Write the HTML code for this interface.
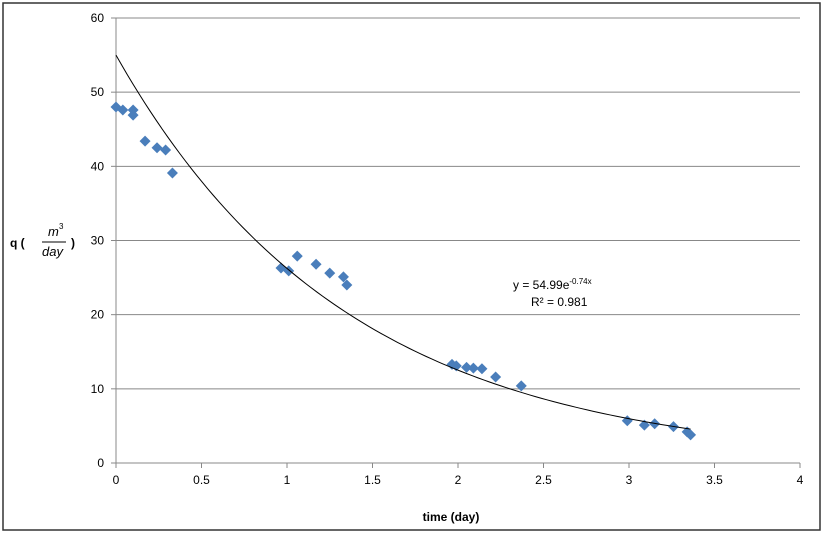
<!DOCTYPE html>
<html><head><meta charset="utf-8"><style>
body{margin:0;background:#fff;font-family:"Liberation Sans",sans-serif;}
svg text{font-family:"Liberation Sans",sans-serif;}
</style></head><body>
<svg id="c" width="824" height="534">
<rect x="3" y="3" width="817" height="527" fill="#fff" stroke="#333" stroke-width="1.5"/>
<g id="grid"></g><g id="axes"></g><g id="marks"></g>
<text x="451" y="521" font-size="12" font-weight="bold" text-anchor="middle">time (day)</text>
<g>
<text x="10" y="247" font-size="12" font-weight="bold">q (</text>
<text x="48" y="236" font-size="13" font-style="italic" font-family="Liberation Serif">m</text>
<text x="59" y="229" font-size="8">3</text>
<line x1="42" y1="242" x2="66" y2="242" stroke="#000"/>
<text x="42" y="256" font-size="13" font-style="italic" font-family="Liberation Serif">day</text>
<text x="71" y="247" font-size="12" font-weight="bold">)</text>
</g>
<text x="513" y="289" font-size="12">y = 54.99e<tspan font-size="8" dy="-5">-0.74x</tspan></text>
<text x="531" y="306" font-size="12">R² = 0.981</text>
</svg>
<script>
const xTicks=[0,0.5,1,1.5,2,2.5,3,3.5,4];
const yTicks=[0,10,20,30,40,50,60];
const timeDays=[0,0.04,0.1,0.1,0.17,0.24,0.29,0.33,0.965,1.01,1.06,1.17,1.25,1.33,1.35,1.965,1.99,2.05,2.09,2.14,2.22,2.37,2.99,3.09,3.15,3.26,3.34,3.36];
const rates=[48,47.6,47.6,46.9,43.4,42.5,42.2,39.1,26.3,25.9,27.9,26.8,25.6,25.1,24.0,13.3,13.1,12.9,12.8,12.7,11.6,10.4,5.7,5.1,5.3,4.9,4.2,3.8];
const fitA=54.99, fitB=-0.74, fitXMax=3.36;
const X0=116,X1=800,Y0=463,Y1=18;
const sx=v=>X0+(v-0)/(4-0)*(X1-X0);
const sy=v=>Y0-(v-0)/(60-0)*(Y0-Y1);
const NS="http://www.w3.org/2000/svg";
function mk(t,a,p){const e=document.createElementNS(NS,t);for(const k in a)e.setAttribute(k,a[k]);p.appendChild(e);return e;}
const g=document.getElementById('grid'),ax=document.getElementById('axes'),m=document.getElementById('marks');
yTicks.forEach(v=>{
 if(v>0){const l=mk('line',{x1:X0,x2:X1,y1:sy(v),y2:sy(v),stroke:'#888','stroke-width':1},g);
 
 }
 const t=mk('text',{x:X0-12,y:sy(v)+4,'font-size':12,'text-anchor':'end'},ax);t.textContent=v;
 
 
 mk('line',{x1:X0-5,x2:X0,y1:sy(v),y2:sy(v),stroke:'#888'},ax);
});
xTicks.forEach(v=>{
 const t=mk('text',{x:sx(v),y:Y0+21,'font-size':12,'text-anchor':'middle'},ax);t.textContent=v;
 
 
 mk('line',{x1:sx(v),x2:sx(v),y1:Y0,y2:Y0+5,stroke:'#888'},ax);
});
mk('line',{x1:X0,x2:X0,y1:Y1,y2:Y0,stroke:'#888'},ax);
mk('line',{x1:X0,x2:X1,y1:Y0,y2:Y0,stroke:'#888'},ax);
timeDays.forEach((t,i)=>{
 const cx=sx(t),cy=sy(rates[i]);
 const p=mk('polygon',{points:`${cx},${cy-5.5} ${cx+5.5},${cy} ${cx},${cy+5.5} ${cx-5.5},${cy}`,fill:'#4a7ebb'},m);
 
 
});
let d='';for(let i=0;i<=100;i++){const x=fitXMax*i/100;d+=(i?'L':'M')+sx(x)+','+sy(fitA*Math.exp(fitB*x));}
const tl=mk('path',{d:d,fill:'none',stroke:'#000','stroke-width':1},m);


</script>
</body></html>
